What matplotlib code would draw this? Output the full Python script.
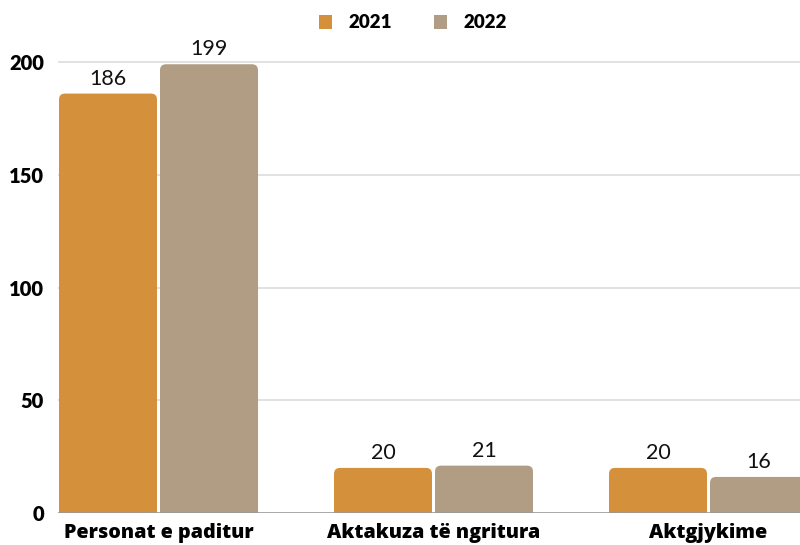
import matplotlib
matplotlib.use("Agg")
import matplotlib.pyplot as plt
from matplotlib.patches import FancyBboxPatch, Patch
import numpy as np

categories = ["Personat e paditur", "Aktakuza të ngritura", "Aktgjykime"]
series_names = ["2021", "2022"]
values_2021 = [186, 20, 20]
values_2022 = [199, 21, 16]
yticks = [0, 50, 100, 150, 200]

colors = ["#D4903A", "#B19D83"]

W, H = 800, 545
fig = plt.figure(figsize=(W / 100, H / 100), dpi=100)
ax_left, ax_right, ax_bottom_px, ax_top_px = 58, 800, 513, 40
ax = fig.add_axes([ax_left / W, (H - ax_bottom_px) / H,
                   (ax_right - ax_left) / W, (ax_bottom_px - ax_top_px) / H])

px_per_x = 275.0
ylim_top = 200 * (ax_bottom_px - ax_top_px) / 451.0
px_per_y = 451.0 / 200
ax.set_xlim((58 - 158.5) / px_per_x, (800 - 158.5) / px_per_x)
ax.set_ylim(0, ylim_top)

x = np.arange(len(categories))
bw = 98 / px_per_x
off = 50.5 / px_per_x
r_px = 6
r_x = r_px / px_per_x
aspect = (1 / px_per_y) / (1 / px_per_x)

for si, vals in enumerate([values_2021, values_2022]):
    xs = x + (-off if si == 0 else off)
    for xi, v in zip(xs, vals):
        ext = r_px / px_per_y
        p = FancyBboxPatch((xi - bw / 2, -ext), bw, v + ext,
                           boxstyle=f"round,pad=0,rounding_size={r_x}",
                           mutation_aspect=aspect, facecolor=colors[si],
                           edgecolor="none", zorder=3)
        ax.add_patch(p)
        ax.annotate(str(v), (xi, v), xytext=(0, 3.5), textcoords="offset points",
                    ha="center", va="bottom", fontsize=15.5, family="Lato",
                    color="#111111", zorder=4)

for t in yticks[1:]:
    ax.axhline(t, color="#DDDDDD", lw=1.2, zorder=1)
ax.axhline(0, color="#999999", lw=1.2, zorder=5)

for s in ax.spines.values():
    s.set_visible(False)
ax.set_yticks(yticks)
ax.set_yticklabels([str(t) for t in yticks], fontsize=14.5, fontweight="heavy",
                   family="Lato")
ax.set_xticks(x)
ax.set_xticklabels(categories, fontsize=14.2, fontweight=800, family="Open Sans")
ax.tick_params(axis="y", length=0, pad=10)
ax.tick_params(axis="x", length=0, pad=7)

handles = [Patch(facecolor=c, edgecolor="none") for c in colors]
fig.legend(handles, series_names, loc="center", bbox_to_anchor=(413 / W, 1 - 23 / H),
           ncol=2, frameon=False, handlelength=0.7, handleheight=0.7,
           handletextpad=0.9, columnspacing=2.2,
           prop={"family": "Lato", "weight": "heavy", "size": 13.5})

fig.savefig("out.png", dpi=100)
